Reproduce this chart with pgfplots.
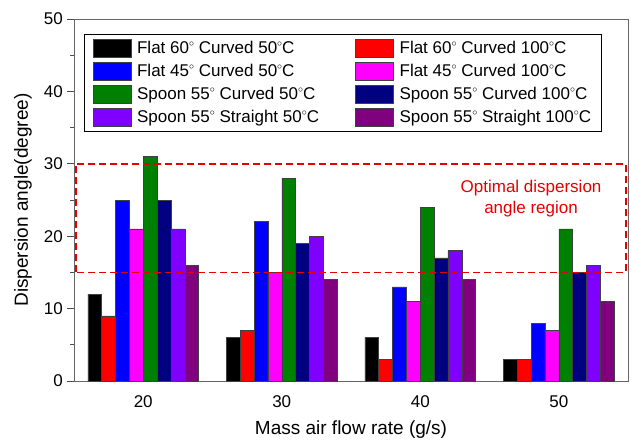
\documentclass[border=0pt]{standalone}
\usepackage{pgfplots}
\pgfplotsset{compat=1.18}
\usepackage{fontspec}
\setmainfont{Liberation Sans}
\definecolor{cgreen}{RGB}{0,128,0}
\definecolor{cnavy}{RGB}{0,0,128}
\definecolor{cviolet}{RGB}{128,0,255}
\definecolor{cpurple}{RGB}{128,0,128}
\definecolor{cmag}{RGB}{255,0,255}
\newcommand{\dg}{\raisebox{0.85ex}{\fontsize{10}{10}\selectfont$\circ$}}
\begin{document}
\begin{tikzpicture}
\begin{axis}[
  scale only axis, width=554pt, height=362pt,
  xmin=15, xmax=55, ymin=0, ymax=50,
  ybar=0pt, bar width=1,
  xtick={20,30,40,50}, ytick={0,10,20,30,40,50},
  minor y tick num=1,
  tick align=outside, ytick pos=left, xtick pos=bottom,
  major tick length=7pt, minor tick length=4pt,
  major x tick style={draw=none},
  axis line style={black!60, line width=0.8pt},
  every tick/.style={black!70, line width=0.8pt},
  /pgf/number format/assume math mode=true,
  tick label style={font=\fontsize{17}{20}\selectfont},
  yticklabel style={inner sep=0pt, xshift=-4pt},
  xticklabel style={anchor=base, inner sep=0pt, yshift=-19pt},
  xlabel={Mass air flow rate (g/s)},
  ylabel={Dispersion angle(degree)},
  every axis x label/.style={at={(axis description cs:0.5,-0.149)}, anchor=base, font=\fontsize{19}{22}\selectfont},
  every axis y label/.style={at={(axis description cs:-0.092,0.5)}, rotate=90, anchor=center, font=\fontsize{19}{22}\selectfont},
  every axis plot post/.append style={draw=black!75, line width=0.5pt,
    legend image code/.code={\draw[##1, draw=black!75, line width=0.5pt] (0pt,-9pt) rectangle (38pt,9pt);\path (42pt,0pt);}},
  legend columns=2,
  legend cell align=left,
  legend style={at={(rel axis cs:0.0186,0.959)}, anchor=north west,
    draw=black, line width=0.6pt, fill=white,
    font=\fontsize{17}{20}\selectfont,
    row sep=4.5pt, inner xsep=8pt, inner ysep=5pt,
    /tikz/every even column/.append style={column sep=34pt}},
]
\addplot[fill=black] coordinates {(20,12) (30,6) (40,6) (50,3)};
\addlegendentry{Flat 60\dg{} Curved 50\dg C}
\addplot[fill=red] coordinates {(20,9) (30,7) (40,3) (50,3)};
\addlegendentry{Flat 60\dg{} Curved 100\dg C}
\addplot[fill=blue] coordinates {(20,25) (30,22) (40,13) (50,8)};
\addlegendentry{Flat 45\dg{} Curved 50\dg C}
\addplot[fill=cmag] coordinates {(20,21) (30,15) (40,11) (50,7)};
\addlegendentry{Flat 45\dg{} Curved 100\dg C}
\addplot[fill=cgreen] coordinates {(20,31) (30,28) (40,24) (50,21)};
\addlegendentry{Spoon 55\dg{} Curved 50\dg C}
\addplot[fill=cnavy] coordinates {(20,25) (30,19) (40,17) (50,15)};
\addlegendentry{Spoon 55\dg{} Curved 100\dg C}
\addplot[fill=cviolet] coordinates {(20,21) (30,20) (40,18) (50,16)};
\addlegendentry{Spoon 55\dg{} Straight 50\dg C}
\addplot[fill=cpurple] coordinates {(20,16) (30,14) (40,14) (50,11)};
\addlegendentry{Spoon 55\dg{} Straight 100\dg C}
\draw[red!90!black, line width=1.6pt, dash pattern=on 7pt off 4pt] (axis cs:15.15,15) rectangle (axis cs:54.85,30);
\node[red!90!black, align=center, font=\fontsize{17}{21}\selectfont] at (axis cs:48,25.2) {Optimal dispersion\\angle region};
\end{axis}
\pgfresetboundingbox
\path ([xshift=-74pt,yshift=-61pt]current axis.south west) rectangle ([xshift=3pt,yshift=19pt]current axis.north east);
\end{tikzpicture}
\end{document}
